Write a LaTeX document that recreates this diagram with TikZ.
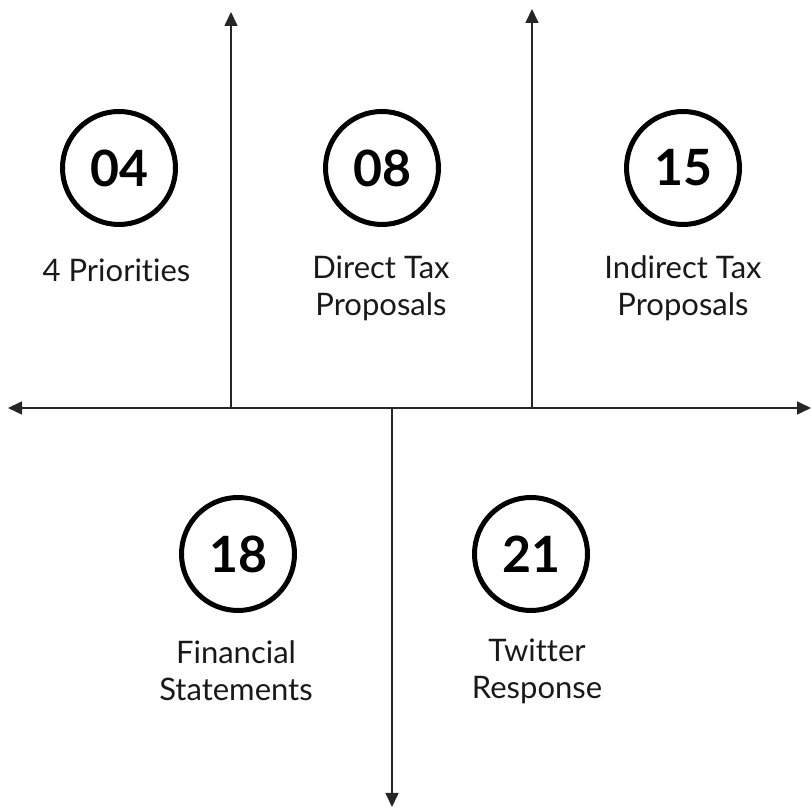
\documentclass[tikz,border=0pt]{standalone}
\usepackage{fontspec}
\setmainfont{Lato}[Ligatures=NoCommon]
\usetikzlibrary{arrows.meta}
\begin{document}
\begin{tikzpicture}[x=1pt,y=1pt,
  axis/.style={line width=1.6pt, draw=black!85, -{Triangle[length=14pt,width=13pt]}},
  numcircle/.style={circle, draw=black, line width=5pt, minimum size=113pt, inner sep=0pt, font=\fontsize{50}{54}\selectfont\bfseries},
  lbl/.style={align=center, font=\fontsize{31}{37}\selectfont, text=black!90}]
\useasboundingbox (0,0) rectangle (811,810);
\coordinate (c) at (392,402);
\coordinate (ax1) at (231,402);
\coordinate (ax2) at (532,402);
\coordinate (L) at (8,402);
\coordinate (R) at (811,402);
\coordinate (U1) at (231,798);
\coordinate (U2) at (532,801);
\coordinate (D) at (392,3);
\draw[axis] (c) -- (L);
\draw[axis] (c) -- (R);
\draw[axis] (ax1) -- (U1);
\draw[axis] (ax2) -- (U2);
\draw[axis] (c) -- (D);
\node[numcircle] (n1) at (119,642) {04};
\node[numcircle] (n2) at (382,642) {08};
\node[numcircle] (n3) at (683,642) {15};
\node[numcircle] (n4) at (238,256) {18};
\node[numcircle] (n5) at (531,256) {21};
\node[lbl] (t1) at (116.5,540) {4 Priorities};
\node[lbl] (t2) at (381,521.5) {Direct Tax\\Proposals};
\node[lbl] (t3) at (683,521.5) {Indirect Tax\\Proposals};
\node[lbl] (t4) at (236,139) {Financial\\Statements};
\node[lbl] (t5) at (537,139) {Twitter\\Response};
\end{tikzpicture}
\end{document}
